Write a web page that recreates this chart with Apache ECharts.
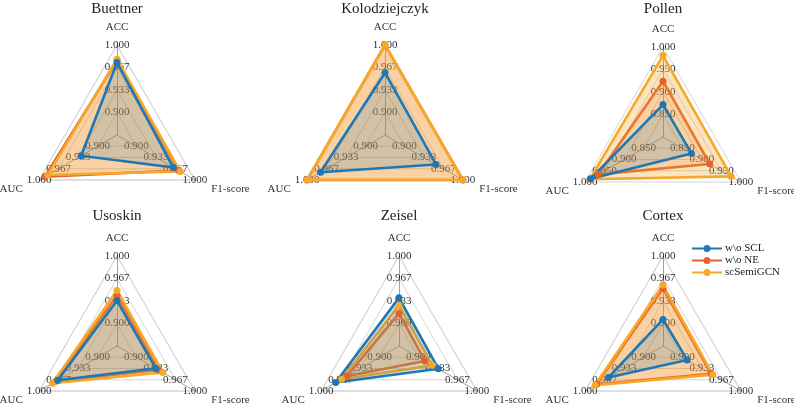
<!DOCTYPE html>
<html><head><meta charset="utf-8">
<script src="https://cdn.jsdelivr.net/npm/echarts@6/dist/echarts.min.js"></script>
<style>html,body{margin:0;padding:0;background:#fff}#c{width:794px;height:403px}</style>
</head><body><div id="c"></div>
<script>
const datasets = ['Buettner', 'Kolodziejczyk', 'Pollen', 'Usoskin', 'Zeisel', 'Cortex'];
const indicators = ['ACC', 'AUC', 'F1-score'];
const methods = ['w\\o SCL', 'w\\o NE', 'scSemiGCN'];
// values per dataset, order: ACC, AUC, F1-score
const woSCL  = [[0.974, 0.928, 0.963], [0.959, 0.977, 0.954], [0.872, 0.986, 0.873], [0.934, 0.968, 0.933], [0.938, 0.975, 0.934], [0.906, 0.960, 0.908]];
const woNE   = [[0.977, 0.990, 0.972], [1.000, 1.000, 1.000], [0.924, 0.966, 0.920], [0.942, 0.971, 0.938], [0.915, 0.956, 0.911], [0.952, 0.980, 0.949]];
const scSemi = [[0.979, 0.985, 0.975], [1.000, 1.000, 1.000], [0.981, 0.988, 0.975], [0.949, 0.977, 0.945], [0.927, 0.965, 0.924], [0.957, 0.983, 0.952]];
const axisMin = [0.866667, 0.866667, 0.8, 0.866667, 0.866667, 0.866667];
const axisMax = [1, 1, 1, 1, 1, 1];

const colors = ['#1f78b4', '#e8602f', '#f6a929'];
const areaOpacity = [0.18, 0.18, 0.3];
const centers = [[117, 135], [385, 135], [663, 137], [117, 346], [399, 346], [663, 346]];
const titleTops = [2, 2, 2, 209, 209, 209];
const serif = '"Liberation Serif", "DejaVu Serif", serif';
const allData = [woSCL, woNE, scSemi];

const chart = echarts.init(document.getElementById('c'), null, {renderer: 'canvas'});

const titles = datasets.map((d, i) => ({
  text: d, left: centers[i][0], top: titleTops[i], textAlign: 'center', padding: 0,
  textStyle: {fontFamily: serif, fontSize: 15, fontWeight: 'normal', color: '#222'}
}));

const radars = datasets.map((d, i) => ({
  center: centers[i], radius: 90, startAngle: 90, splitNumber: 4, shape: 'polygon',
  indicator: indicators.map(n => ({name: n, min: axisMin[i], max: axisMax[i]})),
  axisName: {color: '#333', fontFamily: serif, fontSize: 11},
  nameGap: 12,
  axisLine: {lineStyle: {color: '#a0a0a0', width: 1}},
  splitLine: {lineStyle: {color: '#d4d4d4', width: 1}},
  splitArea: {show: false},
  axisTick: {show: false},
  axisLabel: {
    show: true, margin: 0, align: 'center', verticalAlign: 'middle',
    color: '#333', fontFamily: serif, fontSize: 11,
    formatter: v => (v <= axisMin[i] + 1e-4 ? '' : Number(v).toFixed(3))
  }
}));

// drawing order: w\o NE first, then scSemiGCN, then w\o SCL on top
const order = [1, 2, 0];
const series = datasets.map((d, i) => ({
  type: 'radar', radarIndex: i, symbol: 'circle', symbolSize: 7,
  data: order.map(k => ({
    name: methods[k],
    value: allData[k][i],
    itemStyle: {color: colors[k]},
    lineStyle: {color: colors[k], width: 2.6},
    areaStyle: {color: colors[k], opacity: areaOpacity[k]}
  }))
}));

const legendIcon = 'path://M0,2.9L30,2.9L30,5.1L0,5.1Z M15,0.5A3.5,3.5 0 1,1 15,7.5A3.5,3.5 0 1,1 15,0.5Z';

chart.setOption({
  animation: false,
  backgroundColor: '#fff',
  title: titles,
  legend: {
    orient: 'vertical', left: 687, top: 238, itemWidth: 30, itemHeight: 8, itemGap: 1,
    data: methods.map((m, k) => ({name: m, icon: legendIcon, itemStyle: {color: colors[k]}})),
    textStyle: {fontFamily: serif, fontSize: 11, color: '#222', padding: [0, 0, 0, -2]}
  },
  radar: radars,
  series: series
});
</script></body></html>
